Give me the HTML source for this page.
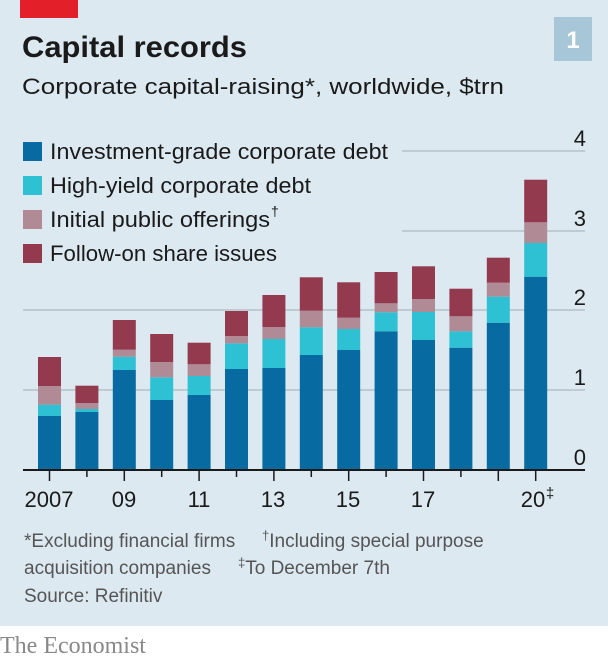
<!DOCTYPE html>
<html><head><meta charset="utf-8"><style>
html,body{margin:0;padding:0;background:#fff}
svg{display:block}
text{font-family:"Liberation Sans",sans-serif}
</style></head><body>
<svg width="608" height="662" viewBox="0 0 608 662" xmlns="http://www.w3.org/2000/svg">
<rect x="0" y="0" width="608" height="626" fill="#dce9f1"/>
<rect x="20" y="0" width="58" height="18" fill="#e3202a"/>
<rect x="554" y="17" width="38" height="44" fill="#a7c7d9"/>
<text x="573" y="48" font-size="24" font-weight="bold" fill="#fff" text-anchor="middle">1</text>
<text x="22" y="57" font-size="30" font-weight="bold" fill="#1a1a1a" textLength="225" lengthAdjust="spacingAndGlyphs">Capital records</text>
<text x="22" y="94" font-size="22" fill="#1a1a1a" textLength="482" lengthAdjust="spacingAndGlyphs">Corporate capital-raising*, worldwide, $trn</text>
<g stroke="#b3c1c9" stroke-width="1.5">
<line x1="402" y1="151" x2="585" y2="151"/>
<line x1="402" y1="231" x2="585" y2="231"/>
<line x1="23" y1="310" x2="585" y2="310"/>
<line x1="23" y1="390" x2="585" y2="390"/>
</g>
<g font-size="22" fill="#1a1a1a" text-anchor="end">
<text x="586" y="146">4</text><text x="586" y="226">3</text><text x="586" y="305">2</text><text x="586" y="385">1</text><text x="586" y="465">0</text>
</g>
<rect x="23" y="142" width="19" height="19" fill="#076aa0"/>
<rect x="23" y="176" width="19" height="19" fill="#2ec0d3"/>
<rect x="23" y="210" width="19" height="19" fill="#b08a94"/>
<rect x="23" y="244" width="19" height="19" fill="#933a4e"/>
<g font-size="22" fill="#1a1a1a">
<text x="50" y="159" textLength="338" lengthAdjust="spacingAndGlyphs">Investment-grade corporate debt</text>
<text x="50" y="193" textLength="261" lengthAdjust="spacingAndGlyphs">High-yield corporate debt</text>
<text x="50" y="227" textLength="220" lengthAdjust="spacingAndGlyphs">Initial public offerings</text>
<text x="271" y="216" font-size="14">†</text>
<text x="50" y="261" textLength="227" lengthAdjust="spacingAndGlyphs">Follow-on share issues</text>
</g>
<g id="bars"></g>
<line x1="23" y1="470" x2="585" y2="470" stroke="#1a1a1a" stroke-width="2"/>
<g id="ticks" stroke="#1a1a1a" stroke-width="1.5"></g>
<g font-size="22" fill="#1a1a1a" text-anchor="middle">
<text x="49" y="507">2007</text><text x="124" y="507">09</text><text x="199" y="507">11</text><text x="273" y="507">13</text><text x="348" y="507">15</text><text x="423" y="507">17</text><text x="533" y="507">20</text>
<text x="550" y="498" font-size="15">‡</text>
</g>
<g font-size="19" fill="#555">
<text x="24" y="547">*Excluding financial firms</text>
<text x="262" y="547"><tspan font-size="13" dy="-7">†</tspan><tspan dy="7">Including special purpose</tspan></text>
<text x="24" y="574">acquisition companies</text>
<text x="238" y="574"><tspan font-size="13" dy="-7">‡</tspan><tspan dy="7">To December 7th</tspan></text>
<text x="24" y="602">Source: Refinitiv</text>
</g>
<text x="0" y="653" style="font-family:'Liberation Serif',serif" font-size="24" fill="#888">The Economist</text>
<script>
var d=[[416,404.7,386,357],[412,409,403,385.7],[370,356.7,349.7,320],[400,377.3,362,334],[395,376,364.3,342.7],[369,343.3,336,311],[368,339,327,295],[355,327.3,310.7,277.3],[350,329,317.7,282.3],[331.3,312.3,303.3,272],[340,312,299,266.3],[347.7,331.3,316.3,288.7],[322.7,296.7,282.7,257.7],[276.7,243,222.3,179.7]];
var c=["#076aa0","#2ec0d3","#b08a94","#933a4e"],ns="http://www.w3.org/2000/svg",g=document.getElementById("bars"),t=document.getElementById("ticks");
d.forEach(function(b,i){var cx=49.5+i*37.4,prev=470;b.forEach(function(y,k){var r=document.createElementNS(ns,"rect");r.setAttribute("x",cx-11.5);r.setAttribute("width",23);r.setAttribute("y",y);r.setAttribute("height",prev-y);r.setAttribute("fill",c[k]);g.appendChild(r);prev=y;});
var l=document.createElementNS(ns,"line");l.setAttribute("x1",cx);l.setAttribute("x2",cx);l.setAttribute("y1",470);l.setAttribute("y2",(i%2==0||i==13)?481:477);t.appendChild(l);});
</script>
</svg>
</body></html>
